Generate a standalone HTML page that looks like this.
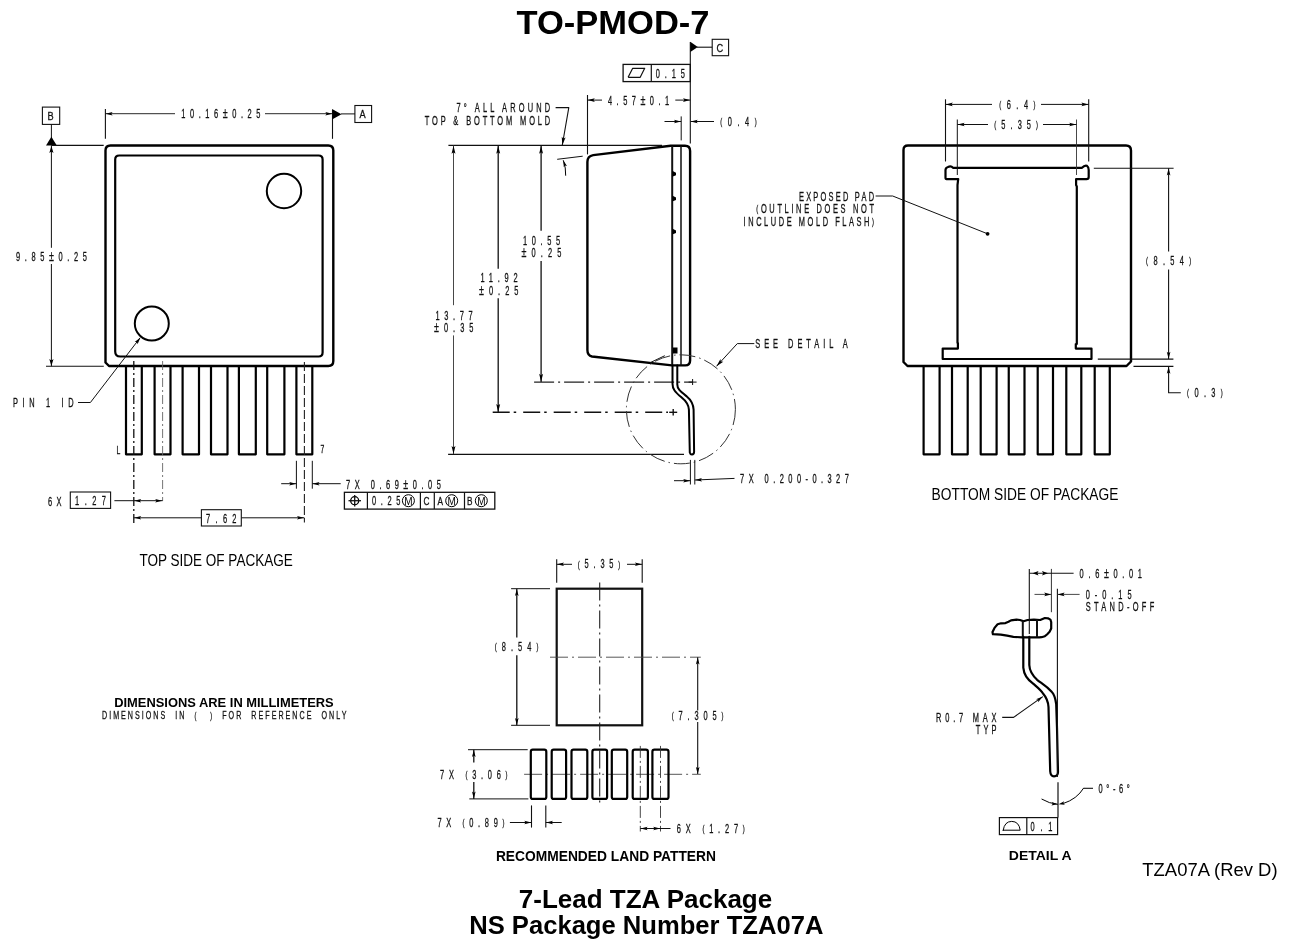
<!DOCTYPE html>
<html><head><meta charset="utf-8"><title>TO-PMOD-7</title>
<style>
html,body{margin:0;padding:0;background:#fff;}
body{width:1291px;height:952px;overflow:hidden;}
svg{display:block;}
svg{filter:grayscale(1);}
text{font-family:"Liberation Sans",sans-serif;}
.cad{font-family:"Liberation Sans",sans-serif;font-weight:normal;}
.bold{font-family:"Liberation Sans",sans-serif;font-weight:bold;}
.hum{font-family:"Liberation Sans",sans-serif;}
.humb{font-family:"Liberation Sans",sans-serif;font-weight:bold;}
.reg{font-family:"Liberation Sans",sans-serif;}
</style></head>
<body>
<svg width="1291" height="952" viewBox="0 0 1291 952">
<rect x="0" y="0" width="1291" height="952" fill="#fff"/>
<text x="516.5" y="34.2" font-size="33" textLength="193.0" lengthAdjust="spacingAndGlyphs" fill="#000" class="bold">TO-PMOD-7</text>
<path d="M105.5,150.5 Q105.5,145.5 110.5,145.5 H328.3 Q333.3,145.5 333.3,150.5 V361 Q333.3,366 328.3,366 H109 L105.5,362.5 Z" fill="none" stroke="#000" stroke-width="2.4" stroke-linejoin="round" stroke-linecap="round" />
<path d="M115.2,159.5 Q115.2,155.5 119.2,155.5 H318.6 Q322.6,155.5 322.6,159.5 V352.5 Q322.6,356.5 318.6,356.5 H120.2 Q115.2,356.5 115.2,351.5 Z" fill="none" stroke="#000" stroke-width="2.2" stroke-linejoin="round" stroke-linecap="round" />
<circle cx="284" cy="191" r="17.2" fill="none" stroke="#000" stroke-width="2"/>
<circle cx="151.8" cy="323.5" r="17" fill="none" stroke="#000" stroke-width="2"/>
<path d="M126,366.5 V454.3 H141.8 V366.5" fill="none" stroke="#000" stroke-width="2.2" stroke-linejoin="round" stroke-linecap="round" stroke-linecap="butt"/>
<path d="M154.6,366.5 V454.3 H170.5 V366.5" fill="none" stroke="#000" stroke-width="2.2" stroke-linejoin="round" stroke-linecap="round" stroke-linecap="butt"/>
<path d="M182.6,366.5 V454.3 H199 V366.5" fill="none" stroke="#000" stroke-width="2.2" stroke-linejoin="round" stroke-linecap="round" stroke-linecap="butt"/>
<path d="M211,366.5 V454.3 H227.5 V366.5" fill="none" stroke="#000" stroke-width="2.2" stroke-linejoin="round" stroke-linecap="round" stroke-linecap="butt"/>
<path d="M238.9,366.5 V454.3 H255.8 V366.5" fill="none" stroke="#000" stroke-width="2.2" stroke-linejoin="round" stroke-linecap="round" stroke-linecap="butt"/>
<path d="M267.2,366.5 V454.3 H284.4 V366.5" fill="none" stroke="#000" stroke-width="2.2" stroke-linejoin="round" stroke-linecap="round" stroke-linecap="butt"/>
<path d="M296.4,366.5 V454.3 H312.3 V366.5" fill="none" stroke="#000" stroke-width="2.2" stroke-linejoin="round" stroke-linecap="round" stroke-linecap="butt"/>
<line x1="133.8" y1="361" x2="133.8" y2="523" stroke="#111" stroke-width="1.3" stroke-dasharray="9 3 2 3"/>
<line x1="162.6" y1="361" x2="162.6" y2="501" stroke="#666" stroke-width="0.9" stroke-dasharray="9 3 2 3"/>
<line x1="304.4" y1="362" x2="304.4" y2="522.6" stroke="#222" stroke-width="1.1" stroke-dasharray="9 3"/>
<rect x="42.4" y="107.1" width="17.3" height="17.3" rx="0" fill="none" stroke="#111" stroke-width="1.1"/>
<text transform="translate(47.5,120.15) scale(0.8,1)" x="0" y="0" font-size="11.50" textLength="9.38" lengthAdjust="spacing" fill="#111" class="cad" stroke="#111" stroke-width="0.3" style="white-space:pre">B</text>
<line x1="51.4" y1="124.4" x2="51.4" y2="140" stroke="#111" stroke-width="1.0" />
<polygon points="51.4,136.8 46,145.6 56.8,145.6" fill="#000"/>
<line x1="51.4" y1="145.4" x2="103.7" y2="145.4" stroke="#111" stroke-width="1.1" />
<line x1="51.4" y1="145.4" x2="51.4" y2="247.8" stroke="#111" stroke-width="1.0" />
<line x1="51.4" y1="264" x2="51.4" y2="366.3" stroke="#111" stroke-width="1.0" />
<polygon points="51.40,146.00 53.50,153.00 51.40,151.60 49.30,153.00" fill="#000"/>
<polygon points="51.40,366.00 49.30,359.00 51.40,360.40 53.50,359.00" fill="#000"/>
<line x1="46" y1="366.3" x2="103.8" y2="366.3" stroke="#111" stroke-width="1.1" />
<text transform="translate(16,261.20) scale(0.62,1)" x="0" y="0" font-size="12.00" textLength="114.52" lengthAdjust="spacing" fill="#111" class="cad" stroke="#111" stroke-width="0.3" style="white-space:pre">9.85<tspan font-size="14.4">±</tspan>0.25</text>
<line x1="105.4" y1="109" x2="105.4" y2="138.7" stroke="#111" stroke-width="1.1" />
<line x1="332.5" y1="109.4" x2="332.5" y2="138.8" stroke="#111" stroke-width="1.1" />
<line x1="105.4" y1="113.7" x2="175" y2="113.7" stroke="#111" stroke-width="0.9" />
<line x1="265" y1="113.7" x2="332.5" y2="113.7" stroke="#111" stroke-width="0.9" />
<polygon points="105.60,113.70 112.60,111.88 111.20,113.70 112.60,115.52" fill="#000"/>
<polygon points="332.30,113.70 325.30,115.52 326.70,113.70 325.30,111.88" fill="#000"/>
<text transform="translate(181.3,118.30) scale(0.62,1)" x="0" y="0" font-size="12.00" textLength="127.58" lengthAdjust="spacing" fill="#111" class="cad" stroke="#111" stroke-width="0.3" style="white-space:pre">10.16<tspan font-size="14.4">±</tspan>0.25</text>
<polygon points="332.5,109.2 332.5,119.2 341.5,114.2" fill="#000"/>
<line x1="341" y1="113.9" x2="355" y2="113.9" stroke="#111" stroke-width="1.0" />
<rect x="354.9" y="105.5" width="16.7" height="17.0" rx="0" fill="none" stroke="#111" stroke-width="1.1"/>
<text transform="translate(359.5,118.35) scale(0.8,1)" x="0" y="0" font-size="11.50" textLength="9.38" lengthAdjust="spacing" fill="#111" class="cad" stroke="#111" stroke-width="0.3" style="white-space:pre">A</text>
<text transform="translate(12.9,407.10) scale(0.62,1)" x="0" y="0" font-size="12.00" textLength="98.06" lengthAdjust="spacing" fill="#111" class="cad" stroke="#111" stroke-width="0.3" style="white-space:pre">PIN 1 ID</text>
<polyline points="78,402.5 90.4,402.5 140.2,337.7" fill="none" stroke="#111" stroke-width="1.0" stroke-linejoin="round" />
<polygon points="140.40,337.50 137.58,344.16 136.99,341.94 134.69,341.94" fill="#000"/>
<text transform="translate(116.5,454.15) scale(0.62,1)" x="0" y="0" font-size="11.00" textLength="8.06" lengthAdjust="spacing" fill="#111" class="cad" stroke="#111" stroke-width="0.3" style="white-space:pre">L</text>
<text transform="translate(320.5,453.15) scale(0.62,1)" x="0" y="0" font-size="11.00" textLength="8.87" lengthAdjust="spacing" fill="#111" class="cad" stroke="#111" stroke-width="0.3" style="white-space:pre">7</text>
<text transform="translate(48,505.60) scale(0.62,1)" x="0" y="0" font-size="12.00" textLength="21.61" lengthAdjust="spacing" fill="#111" class="cad" stroke="#111" stroke-width="0.3" style="white-space:pre">6X</text>
<rect x="70.3" y="492" width="40.3" height="16.4" rx="0" fill="none" stroke="#111" stroke-width="1.1"/>
<text transform="translate(75,505.10) scale(0.62,1)" x="0" y="0" font-size="12.00" textLength="50.00" lengthAdjust="spacing" fill="#111" class="cad" stroke="#111" stroke-width="0.3" style="white-space:pre">1.27</text>
<line x1="114.4" y1="500.7" x2="162.6" y2="500.7" stroke="#111" stroke-width="1.0" />
<polygon points="134.20,500.70 141.20,498.88 139.80,500.70 141.20,502.52" fill="#000"/>
<polygon points="162.20,500.70 155.20,502.52 156.60,500.70 155.20,498.88" fill="#000"/>
<line x1="133.8" y1="517.8" x2="201.4" y2="517.8" stroke="#111" stroke-width="1.0" />
<line x1="241.3" y1="517.8" x2="304.4" y2="517.8" stroke="#111" stroke-width="1.0" />
<polygon points="134.20,517.80 141.20,515.98 139.80,517.80 141.20,519.62" fill="#000"/>
<polygon points="304.00,517.80 297.00,519.62 298.40,517.80 297.00,515.98" fill="#000"/>
<rect x="201.4" y="509.7" width="39.9" height="16.3" rx="0" fill="none" stroke="#111" stroke-width="1.1"/>
<text transform="translate(206,522.60) scale(0.62,1)" x="0" y="0" font-size="12.00" textLength="49.19" lengthAdjust="spacing" fill="#111" class="cad" stroke="#111" stroke-width="0.3" style="white-space:pre">7.62</text>
<line x1="296.4" y1="460.8" x2="296.4" y2="488.7" stroke="#111" stroke-width="1.0" />
<line x1="312.3" y1="460.8" x2="312.3" y2="488.7" stroke="#111" stroke-width="1.0" />
<line x1="281.2" y1="483.7" x2="296.4" y2="483.7" stroke="#111" stroke-width="1.0" />
<line x1="312.3" y1="483.7" x2="340.7" y2="483.7" stroke="#111" stroke-width="1.0" />
<polygon points="296.20,483.70 289.20,485.52 290.60,483.70 289.20,481.88" fill="#000"/>
<polygon points="312.50,483.70 319.50,481.88 318.10,483.70 319.50,485.52" fill="#000"/>
<text transform="translate(346,489.00) scale(0.62,1)" x="0" y="0" font-size="12.00" textLength="152.90" lengthAdjust="spacing" fill="#111" class="cad" stroke="#111" stroke-width="0.3" style="white-space:pre">7X 0.69<tspan font-size="14.4">±</tspan>0.05</text>
<rect x="344.4" y="492.3" width="150.4" height="16.8" rx="0" fill="none" stroke="#111" stroke-width="1.3"/>
<line x1="367.4" y1="492.3" x2="367.4" y2="509.1" stroke="#111" stroke-width="1.2" />
<line x1="420.4" y1="492.3" x2="420.4" y2="509.1" stroke="#111" stroke-width="1.2" />
<line x1="434.3" y1="492.3" x2="434.3" y2="509.1" stroke="#111" stroke-width="1.2" />
<line x1="464.5" y1="492.3" x2="464.5" y2="509.1" stroke="#111" stroke-width="1.2" />
<circle cx="354.7" cy="500.7" r="4" fill="none" stroke="#000" stroke-width="1.3"/>
<line x1="348.5" y1="500.7" x2="361" y2="500.7" stroke="#111" stroke-width="1.3" />
<line x1="354.7" y1="495" x2="354.7" y2="506.5" stroke="#111" stroke-width="1.3" />
<text transform="translate(372,505.30) scale(0.62,1)" x="0" y="0" font-size="12.00" textLength="45.97" lengthAdjust="spacing" fill="#111" class="cad" stroke="#111" stroke-width="0.3" style="white-space:pre">0.25</text>
<circle cx="408.4" cy="500.7" r="6" fill="none" stroke="#000" stroke-width="1"/>
<text x="408.4" y="504.6" font-size="10" text-anchor="middle" class="cad">M</text>
<circle cx="451.7" cy="500.7" r="6" fill="none" stroke="#000" stroke-width="1"/>
<text x="451.7" y="504.6" font-size="10" text-anchor="middle" class="cad">M</text>
<circle cx="481.3" cy="500.7" r="6" fill="none" stroke="#000" stroke-width="1"/>
<text x="481.3" y="504.6" font-size="10" text-anchor="middle" class="cad">M</text>
<text transform="translate(423.5,505.30) scale(0.75,1)" x="0" y="0" font-size="11.00" textLength="10.00" lengthAdjust="spacing" fill="#111" class="cad" stroke="#111" stroke-width="0.3" style="white-space:pre">C</text>
<text transform="translate(437.5,505.30) scale(0.75,1)" x="0" y="0" font-size="11.00" textLength="10.00" lengthAdjust="spacing" fill="#111" class="cad" stroke="#111" stroke-width="0.3" style="white-space:pre">A</text>
<text transform="translate(467,505.30) scale(0.75,1)" x="0" y="0" font-size="11.00" textLength="9.33" lengthAdjust="spacing" fill="#111" class="cad" stroke="#111" stroke-width="0.3" style="white-space:pre">B</text>
<text x="139.4" y="566.1" font-size="16.5" textLength="153.4" lengthAdjust="spacingAndGlyphs" fill="#000" class="hum">TOP SIDE OF PACKAGE</text>
<text x="114.2" y="706.5" font-size="13" textLength="219.5" lengthAdjust="spacingAndGlyphs" fill="#000" class="humb">DIMENSIONS ARE IN MILLIMETERS</text>
<text transform="translate(102,719.30) scale(0.62,1)" x="0" y="0" font-size="11.50" textLength="394.19" lengthAdjust="spacing" fill="#111" class="cad" stroke="#111" stroke-width="0.3" style="white-space:pre">DIMENSIONS  IN  <tspan font-size="9.0" dy="-0.8">(</tspan><tspan dy="0.8">   </tspan><tspan font-size="9.0" dy="-0.8">)</tspan><tspan dy="0.8"></tspan>  FOR  REFERENCE  ONLY</text>
<line x1="448.4" y1="145.4" x2="662" y2="145.4" stroke="#111" stroke-width="1.3" />
<line x1="453.5" y1="145.4" x2="453.5" y2="305.2" stroke="#333" stroke-width="0.9" />
<line x1="453.5" y1="335.4" x2="453.5" y2="454.3" stroke="#333" stroke-width="0.9" />
<line x1="498.2" y1="145.4" x2="498.2" y2="268.8" stroke="#111" stroke-width="1.3" />
<line x1="498.2" y1="298.2" x2="498.2" y2="412.3" stroke="#111" stroke-width="1.3" />
<line x1="541.1" y1="145.4" x2="541.1" y2="230.8" stroke="#111" stroke-width="1.3" />
<line x1="541.1" y1="261" x2="541.1" y2="382.1" stroke="#111" stroke-width="1.3" />
<polygon points="453.50,145.80 455.46,153.80 453.50,152.20 451.54,153.80" fill="#000"/>
<polygon points="453.50,454.00 451.54,446.00 453.50,447.60 455.46,446.00" fill="#000"/>
<polygon points="498.20,145.80 500.16,153.80 498.20,152.20 496.24,153.80" fill="#000"/>
<polygon points="498.20,412.00 496.24,404.00 498.20,405.60 500.16,404.00" fill="#000"/>
<polygon points="541.10,145.80 543.06,153.80 541.10,152.20 539.14,153.80" fill="#000"/>
<polygon points="541.10,381.80 539.14,373.80 541.10,375.40 543.06,373.80" fill="#000"/>
<line x1="534.1" y1="382.1" x2="692.6" y2="382.1" stroke="#222" stroke-width="1.1" stroke-dasharray="20 4 2 4"/>
<line x1="492.7" y1="412.3" x2="668" y2="412.3" stroke="#111" stroke-width="1.6" stroke-dasharray="17 4 2.5 7"/>
<line x1="448.1" y1="454.3" x2="684" y2="454.3" stroke="#111" stroke-width="1.2" />
<line x1="688.6" y1="382.1" x2="696.6" y2="382.1" stroke="#111" stroke-width="1" />
<line x1="692.6" y1="379" x2="692.6" y2="385" stroke="#111" stroke-width="1" />
<line x1="669.2" y1="412.3" x2="677.2" y2="412.3" stroke="#111" stroke-width="1.4" />
<line x1="673.2" y1="409" x2="673.2" y2="415.6" stroke="#111" stroke-width="1.4" />
<text transform="translate(523,245.00) scale(0.62,1)" x="0" y="0" font-size="12.00" textLength="60.00" lengthAdjust="spacing" fill="#111" class="cad" stroke="#111" stroke-width="0.3" style="white-space:pre">10.55</text>
<text transform="translate(521.5,256.90) scale(0.62,1)" x="0" y="0" font-size="12.00" textLength="64.19" lengthAdjust="spacing" fill="#111" class="cad" stroke="#111" stroke-width="0.3" style="white-space:pre"><tspan font-size="14.4">±</tspan>0.25</text>
<text transform="translate(480.4,282.30) scale(0.62,1)" x="0" y="0" font-size="12.00" textLength="60.00" lengthAdjust="spacing" fill="#111" class="cad" stroke="#111" stroke-width="0.3" style="white-space:pre">11.92</text>
<text transform="translate(479,294.80) scale(0.62,1)" x="0" y="0" font-size="12.00" textLength="63.71" lengthAdjust="spacing" fill="#111" class="cad" stroke="#111" stroke-width="0.3" style="white-space:pre"><tspan font-size="14.4">±</tspan>0.25</text>
<text transform="translate(435.5,319.50) scale(0.62,1)" x="0" y="0" font-size="12.00" textLength="60.00" lengthAdjust="spacing" fill="#111" class="cad" stroke="#111" stroke-width="0.3" style="white-space:pre">13.77</text>
<text transform="translate(434,331.60) scale(0.62,1)" x="0" y="0" font-size="12.00" textLength="63.71" lengthAdjust="spacing" fill="#111" class="cad" stroke="#111" stroke-width="0.3" style="white-space:pre"><tspan font-size="14.4">±</tspan>0.35</text>
<text transform="translate(456.5,112.10) scale(0.62,1)" x="0" y="0" font-size="12.00" textLength="151.13" lengthAdjust="spacing" fill="#111" class="cad" stroke="#111" stroke-width="0.3" style="white-space:pre">7° ALL AROUND</text>
<text transform="translate(424.7,125.10) scale(0.62,1)" x="0" y="0" font-size="12.00" textLength="202.42" lengthAdjust="spacing" fill="#111" class="cad" stroke="#111" stroke-width="0.3" style="white-space:pre">TOP &amp; BOTTOM MOLD</text>
<polyline points="555.6,107.6 568.8,107.6 562.3,145" fill="none" stroke="#111" stroke-width="1.1" stroke-linejoin="round" />
<polygon points="562.30,145.00 561.73,136.78 563.39,138.69 565.59,137.45" fill="#000"/>
<line x1="557.2" y1="159.3" x2="582.7" y2="156.2" stroke="#111" stroke-width="1.0" />
<path d="M563.4,160.6 Q566,168 565.7,175.3" fill="none" stroke="#000" stroke-width="1.0" stroke-linejoin="round" stroke-linecap="round" />
<polygon points="563.60,160.80 566.93,166.06 564.98,165.40 563.71,167.03" fill="#000"/>
<path d="M587.4,350 V162 Q587.4,156 593.2,155.1 L670.7,145.8 H685 Q690.1,145.8 690.1,151 V360.6 Q690.1,365.4 685.3,365.4 H672 L592,356.5 Q587.4,355.5 587.4,350 Z" fill="none" stroke="#000" stroke-width="2.4" stroke-linejoin="round" stroke-linecap="round" />
<line x1="672.2" y1="146" x2="672.2" y2="365.4" stroke="#111" stroke-width="2.0" />
<line x1="681" y1="146" x2="681" y2="365.4" stroke="#111" stroke-width="1.5" />
<polygon points="672.2,170.7 676,172.7 676,175.2 672.2,176.7" fill="#000"/>
<polygon points="672.2,195.5 676,197.5 676,200.0 672.2,201.5" fill="#000"/>
<polygon points="672.2,228.4 676,230.4 676,232.9 672.2,234.4" fill="#000"/>
<rect x="673" y="347.5" width="4.5" height="6" fill="#000"/>
<line x1="650.3" y1="362.6" x2="664.8" y2="355.7" stroke="#111" stroke-width="1.0" />
<line x1="587.5" y1="95" x2="587.5" y2="154.4" stroke="#111" stroke-width="1.1" />
<line x1="587.5" y1="100.1" x2="602" y2="100.1" stroke="#111" stroke-width="1.0" />
<line x1="675.3" y1="100.1" x2="690.4" y2="100.1" stroke="#111" stroke-width="1.0" />
<polygon points="587.80,100.10 594.80,98.28 593.40,100.10 594.80,101.92" fill="#000"/>
<polygon points="690.00,100.10 683.00,101.92 684.40,100.10 683.00,98.28" fill="#000"/>
<text transform="translate(608,104.70) scale(0.62,1)" x="0" y="0" font-size="12.00" textLength="98.55" lengthAdjust="spacing" fill="#111" class="cad" stroke="#111" stroke-width="0.3" style="white-space:pre">4.57<tspan font-size="14.4">±</tspan>0.1</text>
<line x1="690.3" y1="42" x2="690.3" y2="143.5" stroke="#111" stroke-width="1.1" />
<polygon points="690.3,41.8 690.3,52 697.8,47" fill="#000"/>
<line x1="697" y1="47.2" x2="712.2" y2="47.2" stroke="#111" stroke-width="1.1" />
<rect x="712.2" y="39.3" width="16.4" height="16.4" rx="0" fill="none" stroke="#111" stroke-width="1.1"/>
<text transform="translate(716.5,52.15) scale(0.8,1)" x="0" y="0" font-size="11.50" textLength="9.38" lengthAdjust="spacing" fill="#111" class="cad" stroke="#111" stroke-width="0.3" style="white-space:pre">C</text>
<rect x="623.1" y="64.4" width="67.2" height="17.2" rx="0" fill="none" stroke="#111" stroke-width="1.3"/>
<line x1="651.3" y1="64.4" x2="651.3" y2="81.6" stroke="#111" stroke-width="1.2" />
<polyline points="628.1,77.3 640.2,77.3 644.7,68.3 632.7,68.3 628.1,77.3" fill="none" stroke="#111" stroke-width="1.2" stroke-linejoin="round" />
<text transform="translate(655.8,77.90) scale(0.62,1)" x="0" y="0" font-size="12.00" textLength="47.10" lengthAdjust="spacing" fill="#111" class="cad" stroke="#111" stroke-width="0.3" style="white-space:pre">0.15</text>
<line x1="681.2" y1="116.4" x2="681.2" y2="140.4" stroke="#111" stroke-width="1.0" />
<line x1="664.5" y1="121.5" x2="681.2" y2="121.5" stroke="#111" stroke-width="1.0" />
<line x1="690.5" y1="121.5" x2="714" y2="121.5" stroke="#111" stroke-width="1.0" />
<polygon points="681.00,121.50 674.00,123.32 675.40,121.50 674.00,119.68" fill="#000"/>
<polygon points="690.70,121.50 697.70,119.68 696.30,121.50 697.70,123.32" fill="#000"/>
<text transform="translate(720.3,125.60) scale(0.62,1)" x="0" y="0" font-size="12.00" textLength="58.71" lengthAdjust="spacing" fill="#111" class="cad" stroke="#111" stroke-width="0.3" style="white-space:pre"><tspan font-size="9.4" dy="-0.8">(</tspan><tspan dy="0.8">0.4</tspan><tspan font-size="9.4" dy="-0.8">)</tspan><tspan dy="0.8"></tspan></text>
<path d="M672.5,365.5 V383.7 C672.5,389 675,392 681.4,397.3 C686,401 688.5,404 688.9,409.6 L689.8,452.5 Q690.3,454.6 692,454.5 Q694,454.3 694.1,452 L693.6,409.6 C693.2,403.5 690.5,399.5 686.8,396.5 C680,391 677.3,389 677.3,384.5 V365.5" fill="none" stroke="#000" stroke-width="2.0" stroke-linejoin="round" stroke-linecap="round" />
<circle cx="680.9" cy="409.3" r="54.5" fill="none" stroke="#333" stroke-width="1.0" stroke-dasharray="16 4 1.5 4"/>
<polyline points="716.5,366.3 737.3,343.6 754.3,343.6" fill="none" stroke="#111" stroke-width="1.0" stroke-linejoin="round" />
<polygon points="716.50,366.30 720.46,359.08 720.82,361.58 723.35,361.72" fill="#000"/>
<text transform="translate(755.2,348.20) scale(0.62,1)" x="0" y="0" font-size="12.00" textLength="149.35" lengthAdjust="spacing" fill="#111" class="cad" stroke="#111" stroke-width="0.3" style="white-space:pre">SEE DETAIL A</text>
<line x1="690.4" y1="459.9" x2="690.4" y2="484.5" stroke="#111" stroke-width="1.0" />
<line x1="694.8" y1="459.9" x2="694.8" y2="484.5" stroke="#111" stroke-width="1.0" />
<line x1="674" y1="480.7" x2="690.4" y2="480.7" stroke="#111" stroke-width="1.0" />
<line x1="694.8" y1="480" x2="734.5" y2="478.4" stroke="#111" stroke-width="1.0" />
<polygon points="690.20,480.70 683.20,482.52 684.60,480.70 683.20,478.88" fill="#000"/>
<polygon points="695.00,480.00 701.92,477.90 700.60,479.78 702.07,481.54" fill="#000"/>
<text transform="translate(740.1,483.40) scale(0.62,1)" x="0" y="0" font-size="12.00" textLength="175.32" lengthAdjust="spacing" fill="#111" class="cad" stroke="#111" stroke-width="0.3" style="white-space:pre">7X 0.200-0.327</text>
<path d="M903.5,150 Q903.5,145.5 908,145.5 H1126 Q1131,145.5 1131,150.5 V361.5 L1126.5,366 H907.5 L903.5,362 Z" fill="none" stroke="#000" stroke-width="2.4" stroke-linejoin="round" stroke-linecap="round" />
<path d="M957.5,343 V185 L958.2,179.2 H946.5 Q945.5,179.2 945.5,177.5 V170 Q945.5,167.8 948,167 Q951,165.5 953,167.8 H1082 Q1084.5,165 1087,165.8 Q1088.7,167 1088.7,170 V177 Q1088.7,179.2 1086.5,179.2 H1076.1 V185 L1076.8,186.5 V344 H1075.8 V348.6 H1091.5 V359 H942.7 V348.6 H957.9 V343" fill="none" stroke="#000" stroke-width="2.2" stroke-linejoin="round" stroke-linecap="round" />
<path d="M923.6,366.5 V454.3 H939.6 V366.5" fill="none" stroke="#000" stroke-width="2.2" stroke-linejoin="round" stroke-linecap="round" stroke-linecap="butt"/>
<path d="M952,366.5 V454.3 H967.7 V366.5" fill="none" stroke="#000" stroke-width="2.2" stroke-linejoin="round" stroke-linecap="round" stroke-linecap="butt"/>
<path d="M980.7,366.5 V454.3 H996.6 V366.5" fill="none" stroke="#000" stroke-width="2.2" stroke-linejoin="round" stroke-linecap="round" stroke-linecap="butt"/>
<path d="M1008.75,366.5 V454.3 H1024.5 V366.5" fill="none" stroke="#000" stroke-width="2.2" stroke-linejoin="round" stroke-linecap="round" stroke-linecap="butt"/>
<path d="M1037.7,366.5 V454.3 H1053 V366.5" fill="none" stroke="#000" stroke-width="2.2" stroke-linejoin="round" stroke-linecap="round" stroke-linecap="butt"/>
<path d="M1066.3,366.5 V454.3 H1081.3 V366.5" fill="none" stroke="#000" stroke-width="2.2" stroke-linejoin="round" stroke-linecap="round" stroke-linecap="butt"/>
<path d="M1094.7,366.5 V454.3 H1109.8 V366.5" fill="none" stroke="#000" stroke-width="2.2" stroke-linejoin="round" stroke-linecap="round" stroke-linecap="butt"/>
<line x1="945.5" y1="99.3" x2="945.5" y2="161.5" stroke="#111" stroke-width="1.1" />
<line x1="1088.7" y1="99.3" x2="1088.7" y2="161.5" stroke="#111" stroke-width="1.1" />
<line x1="945.5" y1="104.4" x2="992" y2="104.4" stroke="#111" stroke-width="1.0" />
<line x1="1041" y1="104.4" x2="1088.7" y2="104.4" stroke="#111" stroke-width="1.0" />
<polygon points="945.80,104.40 952.80,102.58 951.40,104.40 952.80,106.22" fill="#000"/>
<polygon points="1088.40,104.40 1081.40,106.22 1082.80,104.40 1081.40,102.58" fill="#000"/>
<text transform="translate(999.3,108.50) scale(0.62,1)" x="0" y="0" font-size="12.00" textLength="58.39" lengthAdjust="spacing" fill="#111" class="cad" stroke="#111" stroke-width="0.3" style="white-space:pre"><tspan font-size="9.4" dy="-0.8">(</tspan><tspan dy="0.8">6.4</tspan><tspan font-size="9.4" dy="-0.8">)</tspan><tspan dy="0.8"></tspan></text>
<line x1="957.3" y1="119.5" x2="957.3" y2="175" stroke="#111" stroke-width="1.0" />
<line x1="1076.5" y1="119.5" x2="1076.5" y2="175" stroke="#333" stroke-width="0.9" />
<line x1="957.3" y1="124.5" x2="988" y2="124.5" stroke="#111" stroke-width="1.0" />
<line x1="1043" y1="124.5" x2="1076.5" y2="124.5" stroke="#111" stroke-width="1.0" />
<polygon points="957.60,124.50 964.60,122.68 963.20,124.50 964.60,126.32" fill="#000"/>
<polygon points="1076.20,124.50 1069.20,126.32 1070.60,124.50 1069.20,122.68" fill="#000"/>
<text transform="translate(994.3,128.60) scale(0.62,1)" x="0" y="0" font-size="12.00" textLength="70.48" lengthAdjust="spacing" fill="#111" class="cad" stroke="#111" stroke-width="0.3" style="white-space:pre"><tspan font-size="9.4" dy="-0.8">(</tspan><tspan dy="0.8">5.35</tspan><tspan font-size="9.4" dy="-0.8">)</tspan><tspan dy="0.8"></tspan></text>
<line x1="1093.8" y1="168.2" x2="1173.6" y2="168.2" stroke="#111" stroke-width="1.1" />
<line x1="1097.8" y1="359.1" x2="1173.4" y2="359.1" stroke="#111" stroke-width="1.1" />
<line x1="1168.6" y1="168.2" x2="1168.6" y2="251.5" stroke="#111" stroke-width="1.1" />
<line x1="1168.6" y1="269.4" x2="1168.6" y2="359.1" stroke="#111" stroke-width="1.1" />
<polygon points="1168.60,168.50 1170.42,175.50 1168.60,174.10 1166.78,175.50" fill="#000"/>
<polygon points="1168.60,358.80 1166.78,351.80 1168.60,353.20 1170.42,351.80" fill="#000"/>
<text transform="translate(1146.1,265.10) scale(0.62,1)" x="0" y="0" font-size="12.00" textLength="72.90" lengthAdjust="spacing" fill="#111" class="cad" stroke="#111" stroke-width="0.3" style="white-space:pre"><tspan font-size="9.4" dy="-0.8">(</tspan><tspan dy="0.8">8.54</tspan><tspan font-size="9.4" dy="-0.8">)</tspan><tspan dy="0.8"></tspan></text>
<line x1="1133.5" y1="366.4" x2="1173.4" y2="366.4" stroke="#111" stroke-width="1.1" />
<polyline points="1168.6,366.6 1168.6,392.7 1180.8,392.7" fill="none" stroke="#111" stroke-width="1.1" stroke-linejoin="round" />
<polygon points="1168.60,366.70 1170.42,373.70 1168.60,372.30 1166.78,373.70" fill="#000"/>
<text transform="translate(1187.1,396.80) scale(0.62,1)" x="0" y="0" font-size="12.00" textLength="57.58" lengthAdjust="spacing" fill="#111" class="cad" stroke="#111" stroke-width="0.3" style="white-space:pre"><tspan font-size="9.4" dy="-0.8">(</tspan><tspan dy="0.8">0.3</tspan><tspan font-size="9.4" dy="-0.8">)</tspan><tspan dy="0.8"></tspan></text>
<text transform="translate(799,200.90) scale(0.62,1)" x="0" y="0" font-size="12.00" textLength="120.97" lengthAdjust="spacing" fill="#111" class="cad" stroke="#111" stroke-width="0.3" style="white-space:pre">EXPOSED PAD</text>
<text transform="translate(756.3,212.70) scale(0.62,1)" x="0" y="0" font-size="12.00" textLength="189.84" lengthAdjust="spacing" fill="#111" class="cad" stroke="#111" stroke-width="0.3" style="white-space:pre"><tspan font-size="9.4" dy="-0.8">(</tspan><tspan dy="0.8">OUTLINE DOES NOT</text>
<text transform="translate(743.6,225.80) scale(0.62,1)" x="0" y="0" font-size="12.00" textLength="210.32" lengthAdjust="spacing" fill="#111" class="cad" stroke="#111" stroke-width="0.3" style="white-space:pre">INCLUDE MOLD FLASH</tspan><tspan font-size="9.4" dy="-0.8">)</tspan><tspan dy="0.8"></tspan></text>
<polyline points="875.6,196 892.7,196 987.6,233.8" fill="none" stroke="#111" stroke-width="1.0" stroke-linejoin="round" />
<circle cx="987.6" cy="233.8" r="1.9" fill="#000"/>
<text x="931.6" y="500.2" font-size="16.8" textLength="186.8" lengthAdjust="spacingAndGlyphs" fill="#000" class="hum">BOTTOM SIDE OF PACKAGE</text>
<rect x="556.7" y="588.7" width="85.5" height="136.6" rx="0" fill="none" stroke="#111" stroke-width="2.2"/>
<line x1="556.7" y1="559.3" x2="556.7" y2="582.8" stroke="#111" stroke-width="1.1" />
<line x1="642.2" y1="559.3" x2="642.2" y2="582.8" stroke="#111" stroke-width="1.1" />
<line x1="556.7" y1="564.3" x2="572" y2="564.3" stroke="#111" stroke-width="1.0" />
<line x1="627" y1="564.3" x2="642.2" y2="564.3" stroke="#111" stroke-width="1.0" />
<polygon points="557.00,564.30 564.00,562.48 562.60,564.30 564.00,566.12" fill="#000"/>
<polygon points="641.90,564.30 634.90,566.12 636.30,564.30 634.90,562.48" fill="#000"/>
<text transform="translate(577.7,568.40) scale(0.62,1)" x="0" y="0" font-size="12.00" textLength="68.71" lengthAdjust="spacing" fill="#111" class="cad" stroke="#111" stroke-width="0.3" style="white-space:pre"><tspan font-size="9.4" dy="-0.8">(</tspan><tspan dy="0.8">5.35</tspan><tspan font-size="9.4" dy="-0.8">)</tspan><tspan dy="0.8"></tspan></text>
<line x1="511.1" y1="588.7" x2="550" y2="588.7" stroke="#111" stroke-width="1.0" />
<line x1="511.1" y1="725.3" x2="550" y2="725.3" stroke="#111" stroke-width="1.0" />
<line x1="516.8" y1="588.7" x2="516.8" y2="637.4" stroke="#111" stroke-width="1.3" />
<line x1="516.8" y1="655.3" x2="516.8" y2="725.3" stroke="#111" stroke-width="1.3" />
<polygon points="516.80,589.00 518.62,596.00 516.80,594.60 514.98,596.00" fill="#000"/>
<polygon points="516.80,725.00 514.98,718.00 516.80,719.40 518.62,718.00" fill="#000"/>
<text transform="translate(494.7,651.00) scale(0.62,1)" x="0" y="0" font-size="12.00" textLength="70.48" lengthAdjust="spacing" fill="#111" class="cad" stroke="#111" stroke-width="0.3" style="white-space:pre"><tspan font-size="9.4" dy="-0.8">(</tspan><tspan dy="0.8">8.54</tspan><tspan font-size="9.4" dy="-0.8">)</tspan><tspan dy="0.8"></tspan></text>
<line x1="599.7" y1="582.4" x2="599.7" y2="803.6" stroke="#222" stroke-width="1.1" stroke-dasharray="18 4 2 4"/>
<line x1="550" y1="657.2" x2="700.8" y2="657.2" stroke="#444" stroke-width="0.9" stroke-dasharray="18 4 2 4"/>
<line x1="524.1" y1="774.3" x2="700.8" y2="774.3" stroke="#444" stroke-width="0.9" stroke-dasharray="18 4 2 4"/>
<line x1="697.7" y1="657.2" x2="697.7" y2="710.6" stroke="#111" stroke-width="1.1" />
<line x1="697.7" y1="722" x2="697.7" y2="774.1" stroke="#111" stroke-width="1.1" />
<polygon points="697.70,657.50 699.52,664.50 697.70,663.10 695.88,664.50" fill="#000"/>
<polygon points="697.70,773.90 695.88,766.90 697.70,768.30 699.52,766.90" fill="#000"/>
<text transform="translate(671.8,720.20) scale(0.62,1)" x="0" y="0" font-size="12.00" textLength="83.23" lengthAdjust="spacing" fill="#111" class="cad" stroke="#111" stroke-width="0.3" style="white-space:pre"><tspan font-size="9.4" dy="-0.8">(</tspan><tspan dy="0.8">7.305</tspan><tspan font-size="9.4" dy="-0.8">)</tspan><tspan dy="0.8"></tspan></text>
<rect x="530.8" y="749.7" width="15.5" height="49.2" rx="2" fill="none" stroke="#000" stroke-width="2.2"/>
<rect x="551.7" y="749.7" width="14.4" height="49.2" rx="2" fill="none" stroke="#000" stroke-width="2.2"/>
<rect x="571.5" y="749.7" width="15.8" height="49.2" rx="2" fill="none" stroke="#000" stroke-width="2.2"/>
<rect x="592.4" y="749.7" width="14.7" height="49.2" rx="2" fill="none" stroke="#000" stroke-width="2.2"/>
<rect x="611.8" y="749.7" width="15.4" height="49.2" rx="2" fill="none" stroke="#000" stroke-width="2.2"/>
<rect x="632.7" y="749.7" width="15.2" height="49.2" rx="2" fill="none" stroke="#000" stroke-width="2.2"/>
<rect x="652.4" y="749.7" width="16.1" height="49.2" rx="2" fill="none" stroke="#000" stroke-width="2.2"/>
<line x1="640.3" y1="745.9" x2="640.3" y2="831.5" stroke="#333" stroke-width="0.9" stroke-dasharray="12 3 2 3"/>
<line x1="660.5" y1="745.9" x2="660.5" y2="831.5" stroke="#333" stroke-width="0.9" stroke-dasharray="12 3 2 3"/>
<line x1="640.3" y1="828.5" x2="670.5" y2="828.5" stroke="#111" stroke-width="1.0" />
<polygon points="640.60,828.50 647.60,826.68 646.20,828.50 647.60,830.32" fill="#000"/>
<polygon points="660.20,828.50 653.20,830.32 654.60,828.50 653.20,826.68" fill="#000"/>
<text transform="translate(676.8,833.10) scale(0.62,1)" x="0" y="0" font-size="12.00" textLength="109.68" lengthAdjust="spacing" fill="#111" class="cad" stroke="#111" stroke-width="0.3" style="white-space:pre">6X <tspan font-size="9.4" dy="-0.8">(</tspan><tspan dy="0.8">1.27</tspan><tspan font-size="9.4" dy="-0.8">)</tspan><tspan dy="0.8"></tspan></text>
<line x1="468" y1="749.7" x2="527.7" y2="749.7" stroke="#111" stroke-width="1.0" />
<line x1="469.3" y1="798.9" x2="528.4" y2="798.9" stroke="#111" stroke-width="1.0" />
<line x1="473.8" y1="749.7" x2="473.8" y2="762.5" stroke="#111" stroke-width="1.3" />
<line x1="473.8" y1="781.9" x2="473.8" y2="798.9" stroke="#111" stroke-width="1.3" />
<polygon points="473.80,750.00 475.62,757.00 473.80,755.60 471.98,757.00" fill="#000"/>
<polygon points="473.80,798.60 471.98,791.60 473.80,793.00 475.62,791.60" fill="#000"/>
<text transform="translate(440.1,778.60) scale(0.62,1)" x="0" y="0" font-size="12.00" textLength="108.71" lengthAdjust="spacing" fill="#111" class="cad" stroke="#111" stroke-width="0.3" style="white-space:pre">7X <tspan font-size="9.4" dy="-0.8">(</tspan><tspan dy="0.8">3.06</tspan><tspan font-size="9.4" dy="-0.8">)</tspan><tspan dy="0.8"></tspan></text>
<line x1="531.5" y1="805.4" x2="531.5" y2="827.6" stroke="#111" stroke-width="1.1" />
<line x1="545.8" y1="805.4" x2="545.8" y2="827.6" stroke="#111" stroke-width="1.1" />
<line x1="509.9" y1="822.5" x2="531.5" y2="822.5" stroke="#111" stroke-width="1.0" />
<line x1="545.8" y1="822.5" x2="561.7" y2="822.5" stroke="#111" stroke-width="1.0" />
<polygon points="531.30,822.50 524.30,824.32 525.70,822.50 524.30,820.68" fill="#000"/>
<polygon points="546.00,822.50 553.00,820.68 551.60,822.50 553.00,824.32" fill="#000"/>
<text transform="translate(437.4,826.60) scale(0.62,1)" x="0" y="0" font-size="12.00" textLength="108.06" lengthAdjust="spacing" fill="#111" class="cad" stroke="#111" stroke-width="0.3" style="white-space:pre">7X <tspan font-size="9.4" dy="-0.8">(</tspan><tspan dy="0.8">0.89</tspan><tspan font-size="9.4" dy="-0.8">)</tspan><tspan dy="0.8"></tspan></text>
<text x="495.9" y="861.2" font-size="14.3" textLength="220.1" lengthAdjust="spacingAndGlyphs" fill="#000" class="humb">RECOMMENDED  LAND  PATTERN</text>
<text x="518.8" y="907.5" font-size="25" textLength="253.4" lengthAdjust="spacingAndGlyphs" fill="#000" class="bold">7-Lead TZA Package</text>
<text x="469.2" y="933.9" font-size="25" textLength="354.2" lengthAdjust="spacingAndGlyphs" fill="#000" class="bold">NS Package Number TZA07A</text>
<path d="M994.5,627.9 L997.6,624.3 L1001,623.3 L1005.5,623.1 L1008.5,621.8 L1011,620.4 L1016.5,619.6 L1020,620 L1023.6,621.2 L1027.6,620 L1033.9,619.6 L1040.2,620 L1044.9,618 L1048,618.3 L1050.4,619.6 L1051.2,622 L1051.2,628.6 L1049.6,631.8 L1047,634.5 L1044.9,636.2 L1041.5,637.2 L1039.4,637.3 L1022,637.3 L1013.4,636.9 L1007.1,635.7 L1000.8,634.6 L992.9,634.2 L992.5,632 L994.5,627.9 Z" fill="none" stroke="#000" stroke-width="2.2" stroke-linejoin="round" stroke-linecap="round" />
<line x1="1022.8" y1="621.2" x2="1022.8" y2="637.3" stroke="#111" stroke-width="2.0" />
<line x1="1037" y1="619.8" x2="1037" y2="637.3" stroke="#111" stroke-width="2.0" />
<path d="M1023.3,636.8 V667.7 C1024,676 1028,680 1032.8,683.3 C1037,687 1041,690 1043.2,693.7 C1046.5,697.5 1048.2,702 1048.5,707 L1050.2,771.3 Q1050.5,776.3 1054,776.3 Q1058,776.3 1058,772 L1057,727.8 L1056.2,704.1 C1055.3,698 1054,694 1051.9,692 C1046,685.5 1041,683 1037.1,679.8 C1031,674 1029.5,670 1029.3,665 V636.8" fill="none" stroke="#000" stroke-width="2.2" stroke-linejoin="round" stroke-linecap="round" />
<line x1="1029.3" y1="568.9" x2="1029.3" y2="633.9" stroke="#111" stroke-width="1.1" />
<line x1="1051.4" y1="568.9" x2="1051.4" y2="612.2" stroke="#333" stroke-width="1.0" />
<line x1="1029.3" y1="573.2" x2="1073.6" y2="573.2" stroke="#111" stroke-width="1.1" />
<polygon points="1032.50,573.20 1038.50,570.96 1037.30,573.20 1038.50,575.44" fill="#000"/>
<polygon points="1048.00,573.20 1042.00,575.44 1043.20,573.20 1042.00,570.96" fill="#000"/>
<text transform="translate(1079.6,578.30) scale(0.62,1)" x="0" y="0" font-size="12.00" textLength="100.65" lengthAdjust="spacing" fill="#111" class="cad" stroke="#111" stroke-width="0.3" style="white-space:pre">0.6<tspan font-size="14.4">±</tspan>0.01</text>
<line x1="1057.4" y1="588.8" x2="1057.4" y2="777" stroke="#111" stroke-width="1.1" />
<line x1="1034.5" y1="594.4" x2="1051.4" y2="594.4" stroke="#333" stroke-width="0.9" />
<line x1="1057.4" y1="594.4" x2="1079.6" y2="594.4" stroke="#333" stroke-width="0.9" />
<polygon points="1051.20,594.40 1044.20,596.22 1045.60,594.40 1044.20,592.58" fill="#000"/>
<polygon points="1057.60,594.40 1064.60,592.58 1063.20,594.40 1064.60,596.22" fill="#000"/>
<text transform="translate(1085.7,599.00) scale(0.62,1)" x="0" y="0" font-size="12.00" textLength="74.03" lengthAdjust="spacing" fill="#111" class="cad" stroke="#111" stroke-width="0.3" style="white-space:pre">0-0.15</text>
<text transform="translate(1085.7,611.30) scale(0.62,1)" x="0" y="0" font-size="12.00" textLength="110.48" lengthAdjust="spacing" fill="#111" class="cad" stroke="#111" stroke-width="0.3" style="white-space:pre">STAND-OFF</text>
<polyline points="1002.2,717.4 1013.6,717.4 1042.8,696.6" fill="none" stroke="#111" stroke-width="1.1" stroke-linejoin="round" />
<polygon points="1042.80,696.60 1038.16,702.14 1038.24,699.85 1036.04,699.18" fill="#000"/>
<text transform="translate(936.1,722.00) scale(0.62,1)" x="0" y="0" font-size="12.00" textLength="97.42" lengthAdjust="spacing" fill="#111" class="cad" stroke="#111" stroke-width="0.3" style="white-space:pre">R0.7 MAX</text>
<text transform="translate(975.8,734.30) scale(0.62,1)" x="0" y="0" font-size="12.00" textLength="33.39" lengthAdjust="spacing" fill="#111" class="cad" stroke="#111" stroke-width="0.3" style="white-space:pre">TYP</text>
<line x1="1058" y1="782.2" x2="1058" y2="817.6" stroke="#111" stroke-width="1.2" />
<path d="M1041.9,799.2 Q1049,803.5 1057.5,804.3" fill="none" stroke="#000" stroke-width="1.0" stroke-linejoin="round" stroke-linecap="round" />
<polygon points="1057.60,804.30 1051.45,805.51 1052.82,803.82 1051.81,801.89" fill="#000"/>
<path d="M1083.5,788.3 Q1077,799 1063.6,803.4" fill="none" stroke="#000" stroke-width="1.0" stroke-linejoin="round" stroke-linecap="round" />
<polygon points="1058.60,804.20 1064.13,801.24 1063.31,803.26 1064.84,804.81" fill="#000"/>
<line x1="1083.5" y1="788.3" x2="1093" y2="788.3" stroke="#111" stroke-width="1.1" />
<text transform="translate(1098.6,793.30) scale(0.62,1)" x="0" y="0" font-size="12.00" textLength="50.32" lengthAdjust="spacing" fill="#111" class="cad" stroke="#111" stroke-width="0.3" style="white-space:pre">0°-6°</text>
<rect x="999.4" y="817.6" width="58.2" height="17.0" rx="0" fill="none" stroke="#111" stroke-width="1.2"/>
<line x1="1026.8" y1="817.6" x2="1026.8" y2="834.6" stroke="#111" stroke-width="1.2" />
<path d="M1003.2,830.2 H1020.2 Q1019,821.4 1011.7,821.4 Q1004.5,821.4 1003.2,830.2 Z" fill="none" stroke="#000" stroke-width="1.0" stroke-linejoin="round" stroke-linecap="round" />
<text transform="translate(1030.6,830.70) scale(0.62,1)" x="0" y="0" font-size="12.00" textLength="35.00" lengthAdjust="spacing" fill="#111" class="cad" stroke="#111" stroke-width="0.3" style="white-space:pre">0.1</text>
<text x="1008.8" y="860.3" font-size="13.6" textLength="62.7" lengthAdjust="spacingAndGlyphs" fill="#000" class="humb">DETAIL  A</text>
<text x="1142.3" y="875.8" font-size="17.5" textLength="135.3" lengthAdjust="spacingAndGlyphs" fill="#000" class="reg">TZA07A (Rev D)</text>
</svg>
</body></html>
